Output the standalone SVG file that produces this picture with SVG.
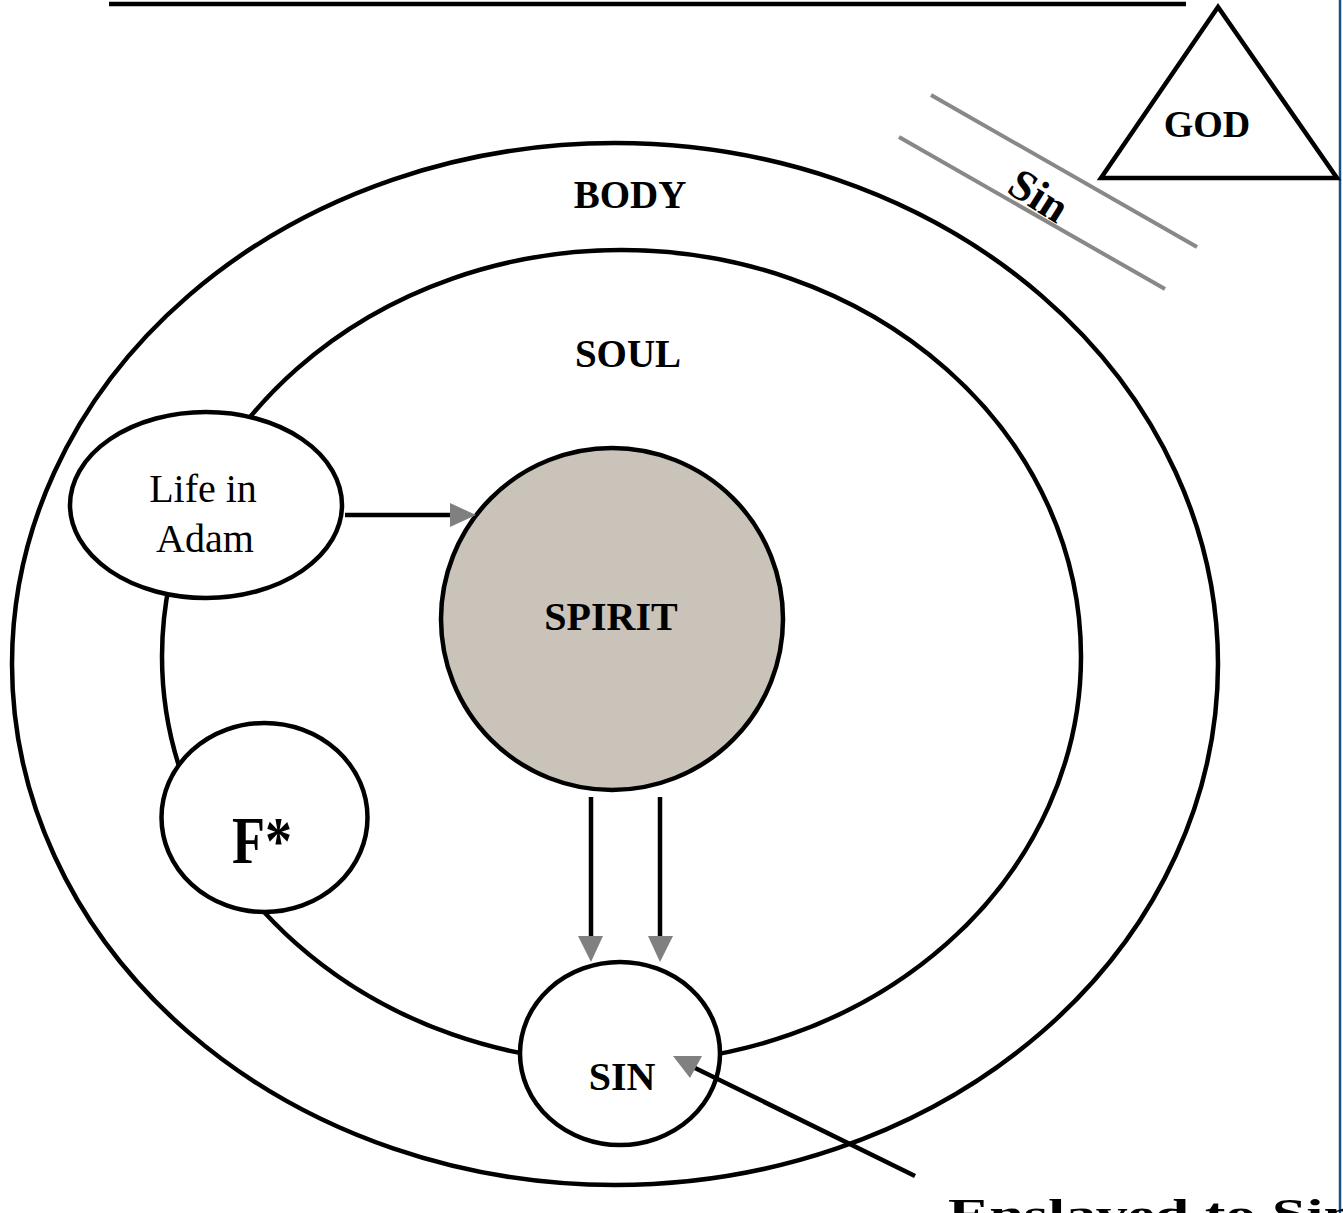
<svg xmlns="http://www.w3.org/2000/svg" width="1343" height="1213" viewBox="0 0 1343 1213">
<style>
.ring{fill:none;stroke:#000;stroke-width:4.5}
.node{fill:#fff;stroke:#000;stroke-width:4.5}
.lbl{font-family:"Liberation Serif","Times New Roman",serif;font-weight:bold;fill:#000;text-anchor:middle}
.reg{font-family:"Liberation Serif","Times New Roman",serif;fill:#000;text-anchor:middle}
.ln{stroke:#000;stroke-width:4.5;fill:none}
.head{fill:#808080}
.sinln{stroke:#888;stroke-width:4}
</style>
<rect width="1343" height="1213" fill="#fff"/>
<line x1="109" y1="4" x2="1186" y2="4" stroke="#000" stroke-width="4.5"/>
<line x1="1340" y1="0" x2="1340" y2="1213" stroke="#1F4E79" stroke-width="2.5"/>

<g id="body">
<ellipse class="ring" cx="615" cy="664" rx="603" ry="521"/>
<text class="lbl" x="630" y="208" font-size="39">BODY</text>
</g>
<g id="soul">
<ellipse class="ring" cx="621.5" cy="656.5" rx="459.5" ry="406.5"/>
<text class="lbl" x="628" y="367" font-size="39">SOUL</text>
</g>
<g id="spirit">
<circle cx="612" cy="619" r="171" fill="#C9C3B9" stroke="#000" stroke-width="4.5"/>
<text class="lbl" x="611" y="630" font-size="40">SPIRIT</text>
</g>
<g id="god">
<polygon points="1218,7 1101,178 1337,178" fill="#fff" stroke="#000" stroke-width="4.5" stroke-linejoin="miter"/>
<text class="lbl" x="1207" y="137" font-size="38">GOD</text>
</g>
<g id="sin-barrier">
<line class="sinln" x1="931" y1="95" x2="1197" y2="247"/>
<line class="sinln" x1="899" y1="137" x2="1165" y2="289"/>
<text class="lbl" font-size="44" transform="translate(1038,197) rotate(32)" x="0" y="13">Sin</text>
</g>
<g id="life-in-adam">
<ellipse class="node" cx="206" cy="505" rx="136" ry="93"/>
<text class="reg" x="203" y="502" font-size="40">Life in</text>
<text class="reg" x="205" y="552" font-size="40">Adam</text>
</g>
<g id="f-star">
<ellipse class="node" cx="264.5" cy="817.5" rx="103" ry="94.5"/>
<text class="lbl" x="232" y="863" font-size="68" style="text-anchor:start" textLength="60" lengthAdjust="spacingAndGlyphs">F*</text>
</g>
<g id="sin">
<ellipse class="node" cx="620" cy="1053.5" rx="100" ry="91.5"/>
<text class="lbl" x="622" y="1090" font-size="40">SIN</text>
</g>
<g id="enslaved">
<text class="lbl" x="948" y="1228" font-size="42" style="text-anchor:start" textLength="410" lengthAdjust="spacingAndGlyphs">Enslaved to Sin</text>
</g>

<g id="connectors">
<line class="ln" x1="345" y1="515" x2="452" y2="515"/>
<polygon class="head" points="450,503 450,527 476,515"/>
<line class="ln" x1="591" y1="797" x2="591" y2="938"/>
<polygon class="head" points="578,936 603,936 591,962"/>
<line class="ln" x1="660" y1="797" x2="660" y2="938"/>
<polygon class="head" points="648,936 673,936 660,962"/>
<line class="ln" x1="915" y1="1176" x2="693" y2="1067"/>
<polygon class="head" points="673,1056 702,1056 690,1078"/>
</g>
</svg>
